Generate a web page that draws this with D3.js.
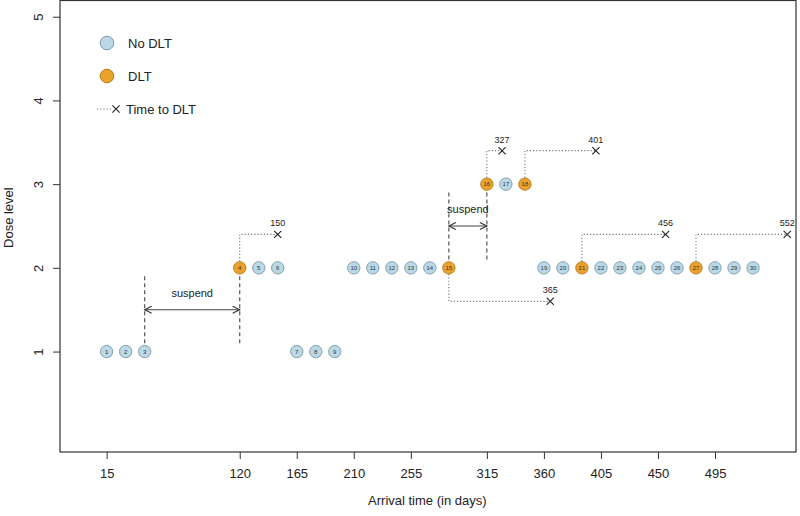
<!DOCTYPE html>
<html><head><meta charset="utf-8">
<script src="https://cdn.jsdelivr.net/npm/d3@7"></script>
<style>body{margin:0;background:#fff}svg{display:block;font-family:"Liberation Sans",Arial,sans-serif}</style>
</head><body><svg id="c" width="800" height="516"></svg>
<script>
const patients = d3.range(1, 31);
const arrival = [15,30,45,120,135,150,165,180,195,210,225,240,255,270,285,315,330,345,360,375,390,405,420,435,450,465,480,495,510,525];
const dose =    [1,1,1,2,2,2,1,1,1,2,2,2,2,2,2,3,3,3,2,2,2,2,2,2,2,2,2,2,2,2];
const dlt =     [0,0,0,1,0,0,0,0,0,0,0,0,0,0,1,1,0,1,0,0,1,0,0,0,0,0,1,0,0,0];
const dltPatient = [4,15,16,18,21,27];
const dltTime = [150,365,327,401,456,552];
const dltLevel = [2.4,1.6,3.4,3.4,2.4,2.4];
const suspendStart = [45,285];
const suspendEnd = [120,315];
const suspendLow = [1.1,2.1];
const suspendHigh = [1.9,2.9];
const suspendArrowY = [1.5,2.5];
const suspendTextY = [1.7,2.7];
const xTicks = [15,120,165,210,255,315,360,405,450,495];
const yTicks = [1,2,3,4,5];

const svg = d3.select("#c");
const L = 60, R = 796, T = 0, B = 452;
const x = d3.scaleLinear().domain([-21.8, 558.9]).range([L, R]);
const y = d3.scaleLinear().domain([-0.2, 5.2]).range([B, T]);

// axes
const xa = svg.append("g").attr("transform", `translate(0,${B})`)
  .call(d3.axisBottom(x).tickValues(xTicks).tickSize(7).tickPadding(10).tickFormat(d3.format("d")));
const ya = svg.append("g").attr("transform", `translate(${L},0)`)
  .call(d3.axisLeft(y).tickValues(yTicks).tickSize(7).tickFormat(d3.format("d")));
[xa, ya].forEach(g => {
  g.select(".domain").remove();
  g.selectAll("line").attr("stroke", "#333");
  g.selectAll("text").attr("fill", "#222").style("font-size", "13px").style("font-family", "Liberation Sans, Arial, sans-serif");
});
ya.selectAll("text").attr("x", null).attr("dy", null)
  .attr("text-anchor", "middle")
  .attr("transform", "translate(-22,0) rotate(-90)")
  .attr("dy", "0.35em");

svg.append("rect").attr("x", L).attr("y", T + 0.5).attr("width", R - L).attr("height", B - T - 0.5)
  .attr("fill", "none").attr("stroke", "#333").attr("stroke-width", 1.2);

svg.append("text").attr("x", x(268)).attr("y", 505).attr("text-anchor", "middle")
  .style("font-size", "13px").attr("fill", "#222").text("Arrival time (in days)");
svg.append("text").attr("transform", `translate(8,${y(2.6)}) rotate(-90)`).attr("text-anchor", "middle")
  .attr("dy", "0.35em").style("font-size", "13px").attr("fill", "#222").text("Dose level");

const plot = svg.append("g");

// suspend lines
suspendStart.forEach((s, i) => {
  const e = suspendEnd[i];
  [s, e].forEach(t => {
    plot.append("line").attr("x1", x(t)).attr("x2", x(t))
      .attr("y1", y(suspendLow[i])).attr("y2", y(suspendHigh[i]))
      .attr("stroke", "#555").attr("stroke-width", 1.2).attr("stroke-dasharray", "4,3");
  });
  const ay = y(suspendArrowY[i]);
  plot.append("line").attr("x1", x(s)).attr("x2", x(e)).attr("y1", ay).attr("y2", ay)
    .attr("stroke", "#444").attr("stroke-width", 1.1);
  const h = 7, w = 3.5;
  plot.append("path").attr("d", `M${x(s)+h},${ay-w}L${x(s)},${ay}L${x(s)+h},${ay+w}`)
    .attr("fill", "none").attr("stroke", "#333").attr("stroke-width", 1.1);
  plot.append("path").attr("d", `M${x(e)-h},${ay-w}L${x(e)},${ay}L${x(e)-h},${ay+w}`)
    .attr("fill", "none").attr("stroke", "#333").attr("stroke-width", 1.1);
  plot.append("text").attr("x", x((s + e) / 2)).attr("y", y(suspendTextY[i])).attr("dy", "0.35em")
    .attr("text-anchor", "middle").style("font-size", "11px").attr("fill", "#222").text("suspend");
});

// DLT time lines
dltPatient.forEach((p, i) => {
  const t0 = arrival[p - 1], d0 = dose[p - 1];
  plot.append("path")
    .attr("d", `M${x(t0)},${y(d0)}L${x(t0)},${y(dltLevel[i])}L${x(dltTime[i])},${y(dltLevel[i])}`)
    .attr("fill", "none").attr("stroke", "#777").attr("stroke-width", 1.1).attr("stroke-dasharray", "1.2,2");
  const cx = x(dltTime[i]), cy = y(dltLevel[i]), s = 3.6;
  plot.append("path").attr("d", `M${cx-s},${cy-s}L${cx+s},${cy+s}M${cx-s},${cy+s}L${cx+s},${cy-s}`)
    .attr("stroke", "#222").attr("stroke-width", 1.1);
  plot.append("text").attr("x", cx).attr("y", cy - 8).attr("text-anchor", "middle")
    .style("font-size", "9px").attr("fill", "#222").text(dltTime[i]);
});

// points
const pts = plot.selectAll("g.pt").data(patients).join("g").attr("class", "pt")
  .attr("transform", p => `translate(${x(arrival[p-1])},${y(dose[p-1])})`);
pts.append("circle").attr("r", 6.2)
  .attr("fill", p => dlt[p-1] ? "#eca22a" : "#b9d9e6")
  .attr("stroke", p => dlt[p-1] ? "#b07a20" : "#7d97a5").attr("stroke-width", 0.9);
pts.append("text").attr("text-anchor", "middle").attr("dy", "0.35em")
  .style("font-size", "6px").attr("fill", "#333").text(p => p);

// legend
const lg = svg.append("g");
lg.append("circle").attr("cx", 107).attr("cy", 43).attr("r", 6.8).attr("fill", "#b9d9e6").attr("stroke", "#7d97a5");
lg.append("text").attr("x", 128).attr("y", 43).attr("dy", "0.35em").style("font-size", "13px").attr("fill", "#222").text("No DLT");
lg.append("circle").attr("cx", 107).attr("cy", 76).attr("r", 6.8).attr("fill", "#eca22a").attr("stroke", "#b07a20");
lg.append("text").attr("x", 128).attr("y", 76).attr("dy", "0.35em").style("font-size", "13px").attr("fill", "#222").text("DLT");
lg.append("line").attr("x1", 97).attr("x2", 112).attr("y1", 109).attr("y2", 109)
  .attr("stroke", "#777").attr("stroke-width", 1.1).attr("stroke-dasharray", "1.2,2");
const lx = 116, ly = 109, ls = 3.6;
lg.append("path").attr("d", `M${lx-ls},${ly-ls}L${lx+ls},${ly+ls}M${lx-ls},${ly+ls}L${lx+ls},${ly-ls}`)
  .attr("stroke", "#222").attr("stroke-width", 1.1);
lg.append("text").attr("x", 126).attr("y", 109).attr("dy", "0.35em").style("font-size", "13px").attr("fill", "#222").text("Time to DLT");
</script></body></html>
